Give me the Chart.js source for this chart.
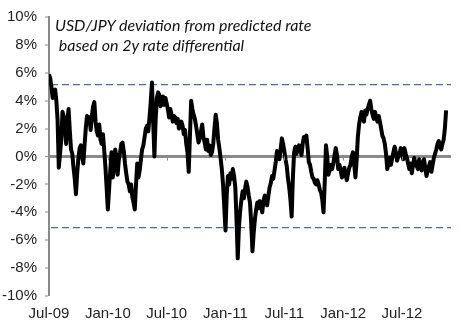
<!DOCTYPE html>
<html>
<head>
<meta charset="utf-8">
<script src="https://cdn.jsdelivr.net/npm/chart.js@4.4.1/dist/chart.umd.min.js"></script>
<style>
  body { margin: 0; background: #fff; }
  #wrap { position: relative; width: 460px; height: 327px; }
  #note {
    position: absolute; left: 55px; top: 15px;
    font-family: Lato, "Open Sans", sans-serif; font-style: italic;
    font-size: 16px; line-height: 20px; color: #111; white-space: pre;
  }
</style>
</head>
<body>
<div id="wrap">
  <canvas id="chart" width="460" height="327"></canvas>
  <div id="note">USD/JPY deviation from predicted rate
 based on 2y rate differential</div>
</div>
<script>
// twice-weekly deviation (%) of USD/JPY from the rate-differential model, starting Jul-09
const deviation = [
  5.9, 5.6, 5.0, 4.2, 4.7, 4.8, 4.0, 2.6, -0.8, 0.2,
  1.2, 3.2, 2.9, 2.0, 0.9, 2.6, 3.4, 1.8, 0.5, 0.2,
  -0.8, -1.6, -2.7, -1.2, -0.1, 0.6, 0.8, 0.0, -0.5, 0.8,
  2.0, 2.9, 2.6, 2.8, 1.9, 2.9, 3.6, 3.9, 2.5, 1.8,
  1.5, 2.3, 1.2, 0.9, 1.6, 0.5, -0.7, -2.2, -3.8, -2.4,
  -1.0, 0.3, -1.5, -0.8, 0.5, 0.0, -1.3, -0.2, 0.3, 0.9,
  1.0, 0.4, -0.5, -1.2, -1.8, -2.0, -2.5, -2.0, -2.9, -3.3,
  -3.8, -2.0, -0.5, -1.5, -1.0, -0.2, 0.5, 0.8, 1.4, 2.0,
  2.2, 1.8, 2.8, 3.9, 5.3, 2.5, 0.0, 2.6, 4.2, 4.6,
  4.4, 3.6, 3.8, 4.3, 3.7, 4.2, 3.8, 3.4, 2.8, 3.4,
  3.0, 2.5, 2.9, 2.8, 2.4, 2.7, 2.0, 2.2, 2.5, 2.2,
  1.6, 1.9, 0.9, 0.3, -1.1, 1.5, 4.0, 3.4, 3.0, 2.7,
  2.2, 1.6, 1.0, 1.3, 1.8, 2.3, 1.4, 1.0, 0.5, 1.2,
  0.4, 0.8, 0.1, 0.3, 0.9, 2.0, 3.0, 2.4, 1.2, 0.6,
  -0.1, -0.9, -2.0, -3.6, -5.3, -2.8, -1.4, -2.0, -1.2, -1.6,
  -0.9, -1.4, -2.2, -4.5, -7.3, -5.0, -3.9, -3.1, -2.5, -3.0,
  -2.3, -1.8, -2.2, -2.8, -3.3, -4.8, -6.8, -5.5, -4.5, -3.8,
  -3.3, -3.7, -3.2, -3.6, -4.0, -3.2, -2.8, -3.0, -3.5, -2.8,
  -2.2, -1.9, -1.4, -1.6, -1.0, -0.4, 0.4, 0.1, -0.2, 0.5,
  1.3, 0.9, 0.4, -0.2, -0.7, -1.6, -2.2, -3.1, -4.3, -1.5,
  0.3, 0.7, 0.2, 0.5, 0.8, 0.5, 0.1, 0.9, 1.4, 1.2,
  1.5, 0.6, -0.4, -0.6, -1.1, -1.5, -1.6, -1.9, -2.0, -1.7,
  -2.0, -2.4, -2.6, -3.1, -4.0, -1.8, 0.8, 0.0, -1.3, -1.0,
  -0.6, -0.9, -0.5, 0.1, 0.6, 0.1, -0.9, -0.6, -1.0, -1.5,
  -1.3, -0.8, -1.3, -1.7, -1.2, -0.8, -0.6, 0.0, 0.3, -0.5,
  -1.5, -0.3, 1.4, 2.3, 2.8, 3.2, 2.8, 2.5, 3.3, 3.0,
  3.4, 3.7, 4.0, 3.4, 3.0, 2.7, 3.2, 2.8, 2.5, 2.9,
  2.5, 2.0, 1.5, 1.3, 0.9, 0.2, -0.9, -0.5, -0.1, -0.6,
  -0.1, 0.3, 0.7, 0.3, -0.3, 0.0, 0.2, 0.6, 0.3, -0.2,
  0.6, 0.2, -0.1, -0.5, -0.9, -0.5, -1.2, -0.6, -0.1, -0.5,
  -0.7, -0.9, -0.2, -0.5, -1.0, -0.6, -0.2, -0.8, -1.4, -1.0,
  -0.7, -0.4, -1.1, -0.6, -0.1, 0.2, 0.5, 0.9, 1.1, 0.7,
  0.5, 0.9, 1.2, 2.0, 3.3
];
const stepMonths = 0.125;         // two observations per week
const tickLabels = ['Jul-09', 'Jan-10', 'Jul-10', 'Jan-11', 'Jul-11', 'Jan-12', 'Jul-12'];
const tickMonths = [0, 6, 12, 18, 24, 30, 36];
const bands = [5.15, -5.1];       // upper / lower deviation bands
const yTicks = [-10, -8, -6, -4, -2, 0, 2, 4, 6, 8, 10];

const axisGrey = '#8a8a8a';
const lastMonth = 41;

const datasets = [{
  data: deviation.map((v, i) => ({ x: i * stepMonths, y: v })),
  borderColor: '#000',
  borderWidth: 4,
  borderJoinStyle: 'round',
  pointRadius: 0,
  tension: 0,
  order: 0
}];
bands.forEach(b => datasets.push({
  data: [{ x: 0.2, y: b }, { x: lastMonth, y: b }],
  borderColor: '#4a6d9f',
  borderWidth: 1.4,
  borderDash: [7, 4],
  pointRadius: 0,
  order: 1
}));

// small tick marks hanging off the zero axis
const zeroTicks = {
  id: 'zeroTicks',
  afterDatasetsDraw(chart) {
    const { ctx, scales: { x, y } } = chart;
    const y0 = y.getPixelForValue(0);
    ctx.save();
    ctx.strokeStyle = axisGrey;
    ctx.lineWidth = 1;
    tickMonths.forEach(m => {
      const px = Math.round(x.getPixelForValue(m)) + 0.5;
      ctx.beginPath();
      ctx.moveTo(px, y0);
      ctx.lineTo(px, y0 + 4);
      ctx.stroke();
    });
    ctx.restore();
  }
};

new Chart(document.getElementById('chart'), {
  type: 'line',
  data: { datasets },
  plugins: [zeroTicks],
  options: {
    responsive: false,
    animation: false,
    layout: { padding: { top: 8, right: 9, bottom: 4, left: 0 } },
    plugins: { legend: { display: false }, tooltip: { enabled: false } },
    scales: {
      x: {
        type: 'linear',
        min: 0,
        max: lastMonth,
        afterBuildTicks: s => { s.ticks = tickMonths.map(v => ({ value: v })); },
        afterFit: s => { s.height = 27; },
        ticks: {
          callback: (v) => tickLabels[tickMonths.indexOf(v)],
          font: { family: '"Liberation Sans", Arial', size: 15 },
          color: '#222',
          padding: 9,
          maxRotation: 0
        },
        grid: { display: false, drawTicks: false },
        border: { display: false }
      },
      y: {
        min: -10,
        max: 10,
        afterBuildTicks: s => { s.ticks = yTicks.map(v => ({ value: v })); },
        afterFit: s => { s.width = 49; },
        ticks: {
          callback: v => v + '%',
          font: { family: '"Liberation Sans", Arial', size: 15 },
          color: '#222',
          padding: 8
        },
        grid: {
          color: c => c.tick && c.tick.value === 0 ? axisGrey : 'rgba(0,0,0,0)',
          lineWidth: c => c.tick && c.tick.value === 0 ? 3 : 0,
          tickColor: axisGrey,
          tickLength: 4,
          tickWidth: 1
        },
        border: { display: true, color: axisGrey, width: 2 }
      }
    }
  }
});
</script>
</body>
</html>
